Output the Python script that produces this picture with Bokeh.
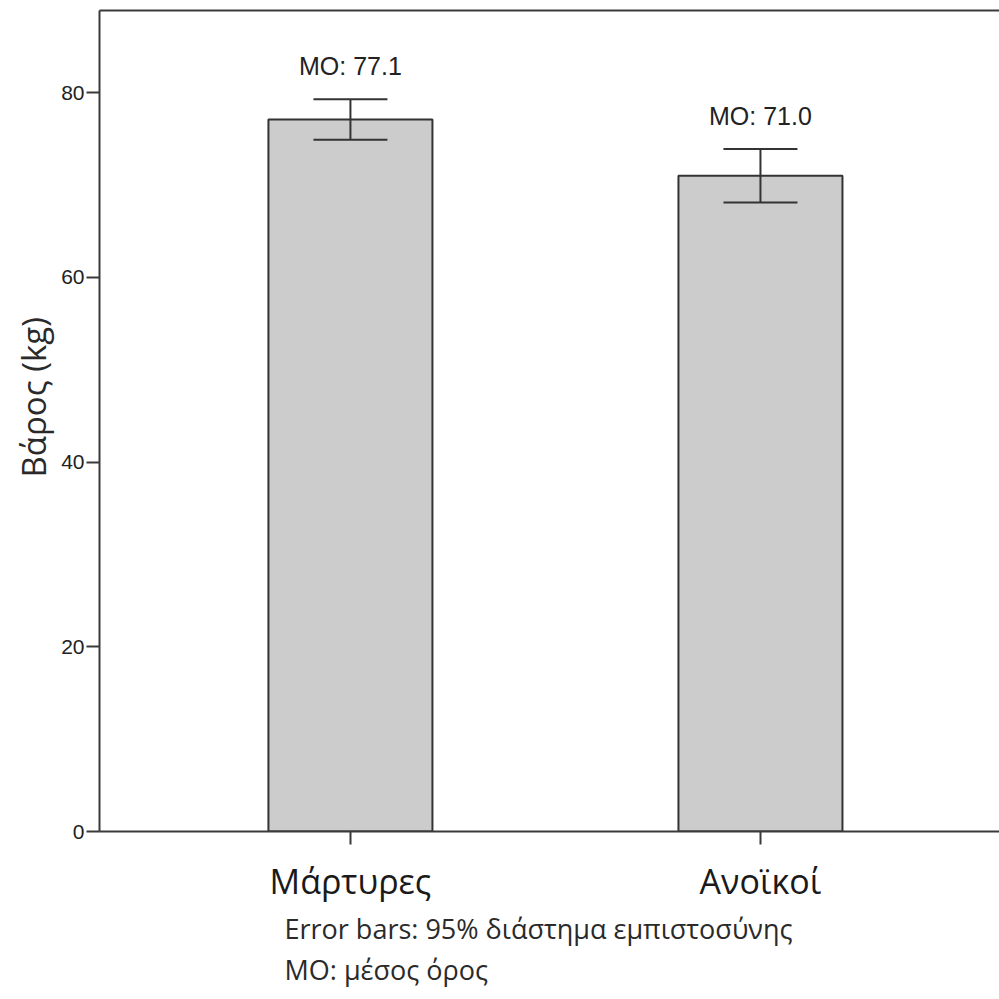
from bokeh.plotting import figure
from bokeh.models import (Range1d, FixedTicker, LinearAxis, Title,
                          ColumnDataSource, Whisker, TeeHead)
from bokeh.core.properties import value
from bokeh.embed import file_html
from bokeh.resources import INLINE

categories = ["Μάρτυρες", "Ανοϊκοί"]
means = [77.1, 71.0]
ci_lower = [74.9, 68.1]
ci_upper = [79.3, 73.9]
y_ticks = [0, 20, 40, 60, 80]
y_label = "Βάρος (kg)"
note_lines = ["Error bars: 95% διάστημα εμπιστοσύνης", "MO: μέσος όρος"]

xpos = list(range(len(categories)))
labels = [f"MO: {m:.1f}" for m in means]
src = ColumnDataSource(dict(x=xpos, mean=means, lo=ci_lower, hi=ci_upper, lab=labels))

AX = "#3a3a3a"

p = figure(width=999, height=999, output_backend="svg", toolbar_location=None,
           x_range=Range1d(-0.612, 1.583),
           y_range=Range1d(0, 88.9),
           min_border_left=99, min_border_right=0, min_border_top=10, min_border_bottom=168)
p.outline_line_color = None
p.grid.grid_line_color = None
p.background_fill_color = "white"
p.border_fill_color = "white"

p.vbar(x="x", top="mean", width=0.4, source=src, fill_color="#cccccc",
       line_color="#333333", line_width=2)

w = Whisker(base="x", lower="lo", upper="hi", source=src, line_color="#333333", line_width=2,
            level="overlay",
            upper_head=TeeHead(size=74, line_color="#333333", line_width=2),
            lower_head=TeeHead(size=74, line_color="#333333", line_width=2))
p.add_layout(w)

p.text(x="x", y="hi", text="lab", source=src, text_align="center", text_baseline="alphabetic",
       y_offset=-33, text_font=value("Liberation Sans"), text_font_size="25px", text_color="#222222")

# y axis
ya = p.yaxis[0]
ya.ticker = FixedTicker(ticks=y_ticks)
ya.minor_tick_line_color = None
ya.major_tick_out = 13
ya.major_tick_in = 0
ya.major_label_standoff = 2
ya.axis_line_color = AX
ya.axis_line_width = 2
ya.major_tick_line_color = AX
ya.major_tick_line_width = 2
ya.major_label_text_font = "Liberation Sans"
ya.major_label_text_font_size = "21px"
ya.major_label_text_color = "#222222"

p.add_layout(Title(text=y_label, align="left", offset=354, text_font="Open Sans",
                   text_font_size="33px", text_font_style="normal", text_color="#2a2a2a",
                   standoff=6), "left")

# x axis
xa = p.xaxis[0]
xa.ticker = FixedTicker(ticks=xpos)
xa.major_label_overrides = {i: c for i, c in zip(xpos, categories)}
xa.minor_tick_line_color = None
xa.axis_line_color = AX
xa.axis_line_width = 2
xa.major_tick_line_color = AX
xa.major_tick_line_width = 2
xa.major_tick_out = 13
xa.major_tick_in = 0
xa.major_label_standoff = 13
xa.major_label_text_font = "Open Sans"
xa.major_label_text_font_size = "34px"
xa.major_label_text_color = "#1a1a1a"

# top frame line
top = LinearAxis(ticker=FixedTicker(ticks=[]), major_tick_out=0, major_tick_in=0,
                 minor_tick_out=0, minor_tick_in=0, major_label_standoff=0,
                 axis_line_color=AX, axis_line_width=2, major_tick_line_color=None,
                 minor_tick_line_color=None)
p.add_layout(top, "above")

for line in note_lines:
    t = Title(text=line, align="left", offset=185, text_font="Open Sans",
              text_font_size="27px", text_font_style="normal", text_color="#2a2a2a",
              standoff=2)
    p.add_layout(t, "below")

open("out.html", "w").write(file_html(p, INLINE))
